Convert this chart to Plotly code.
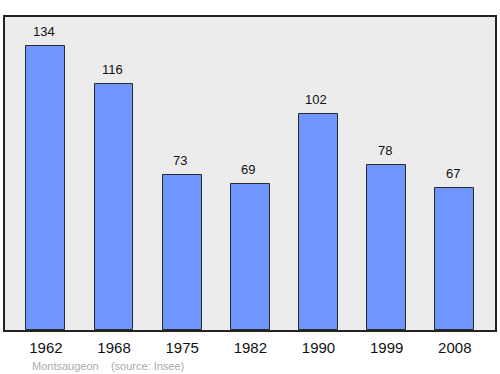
import plotly.graph_objects as go

years = ["1962", "1968", "1975", "1982", "1990", "1999", "2008"]
population = [134, 116, 73, 69, 102, 78, 67]
commune = "Montsaugeon"
source = "(source: Insee)"

fig = go.Figure()
fig.add_trace(go.Bar(
    x=list(range(len(years))), y=population,
    width=0.57,
    marker=dict(color="#7096ff", line=dict(color="#2a2a2a", width=1)),
    hoverinfo="skip",
))
for i, v in enumerate(population):
    fig.add_annotation(x=i, y=v, text=str(v), showarrow=False,
                       yanchor="bottom", yshift=5, xshift=-2,
                       font=dict(family="Liberation Sans, Arial, sans-serif", size=13, color="#111"))
fig.add_annotation(xref="paper", yref="paper", x=0.052, y=-0.09, xanchor="left", yanchor="top",
                   text=commune + "&nbsp;&nbsp;&nbsp;&nbsp;" + source, showarrow=False,
                   font=dict(family="Liberation Sans, Arial, sans-serif", size=11, color="#aaaaaa"))
fig.update_layout(
    width=500, height=374,
    margin=dict(l=5, r=3, t=17, b=44),
    paper_bgcolor="white", plot_bgcolor="#ececec",
    showlegend=False,
    font=dict(family="Liberation Sans, Arial, sans-serif", color="#111"),
    bargap=0,
)
fig.update_xaxes(range=[-0.6, 6.59], showgrid=False, zeroline=False,
                 tickmode="array", tickvals=list(range(len(years))), ticktext=years,
                 ticks="outside", ticklen=3, tickcolor="rgba(0,0,0,0)",
                 tickfont=dict(size=15, color="#111"),
                 showline=True, mirror=True, linecolor="#222", linewidth=1.5)
fig.update_yaxes(range=[0, 147.7], showgrid=False, showticklabels=False, ticks="",
                 zeroline=False,
                 showline=True, mirror=True, linecolor="#222", linewidth=1.5)
fig.write_html("out.html")
